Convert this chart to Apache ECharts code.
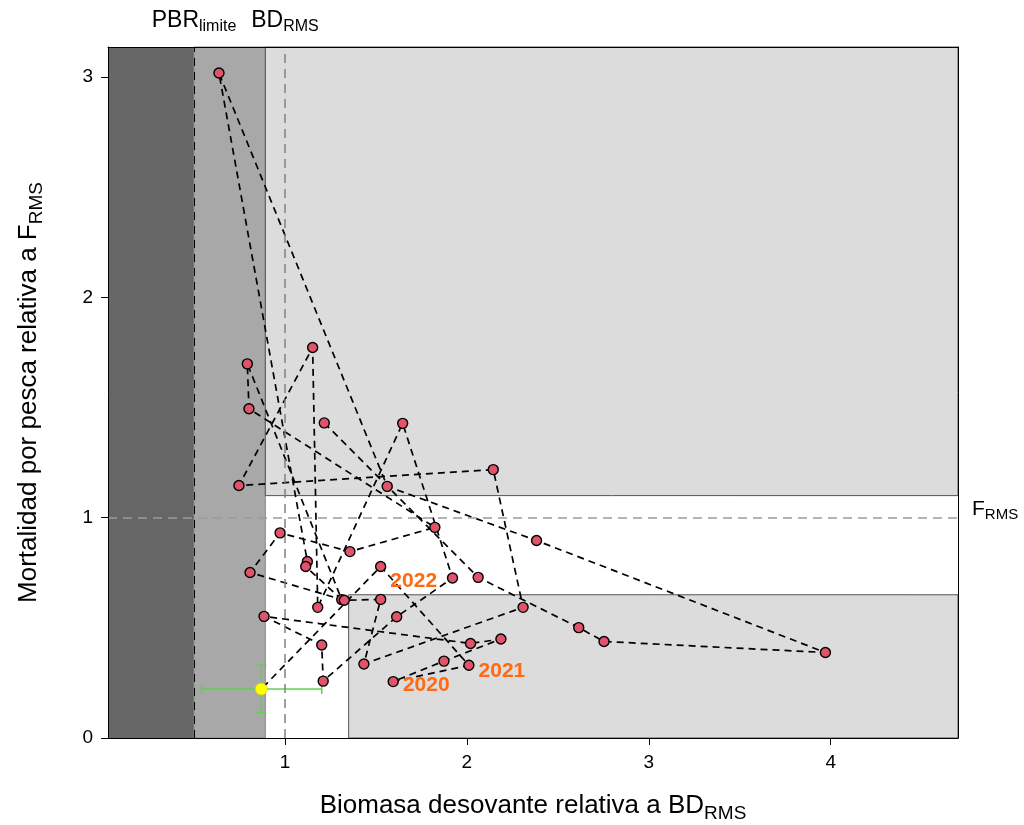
<!DOCTYPE html>
<html>
<head>
<meta charset="utf-8">
<script src="https://cdn.jsdelivr.net/npm/echarts@6/dist/echarts.min.js"></script>
<style>
html,body{margin:0;padding:0;background:#fff;}
#chart{width:1024px;height:825px;}
</style>
</head>
<body>
<div id="chart"></div>
<script>
// ---- data ----
const years = [1986,1987,1988,1989,1990,1991,1992,1993,1994,1995,1996,1997,1998,1999,2000,2001,2002,2003,2004,2005,2006,2007,2008,2009,2010,2011,2012,2013,2014,2015,2016,2017,2018,2019,2020,2021,2022];
const bRel = [1.216,2.062,2.615,2.754,3.971,2.383,1.562,0.637,1.123,1.114,1.312,0.793,0.802,1.824,1.357,0.973,0.808,1.326,1.526,1.434,2.309,2.145,0.747,1.152,1.180,1.647,1.921,1.614,1.210,1.202,0.885,2.020,2.187,1.874,1.595,2.011,1.526];
const fRel = [1.430,0.729,0.501,0.438,0.388,0.896,1.142,3.018,0.801,0.778,0.628,1.698,1.494,0.956,0.846,0.931,0.751,0.625,0.629,0.336,0.593,1.218,1.146,1.772,0.593,1.428,0.726,0.550,0.258,0.422,0.552,0.429,0.449,0.349,0.256,0.330,0.778];
const labeledYears = [2020,2021,2022];
// terminal estimate with intervals
const termB = 0.870, termF = 0.222;
const termBci = [0.542, 1.202];
const termFci = [0.116, 0.331];
// reference points / zone limits
const pbrLimite = 0.5;
const bdRms = 1.0;
const fRms = 1.0;
const zoneB1 = 0.892;
const zoneB2 = 1.35;
const zoneF1 = 0.65;
const zoneF2 = 1.10;
// axis ranges & tick labels
const xMin = 0.027, xMax = 4.70;
const yMin = 0, yMax = 3.136;
const xTicks = [1,2,3,4];
const yTicks = [0,1,2,3];

// ---- chart ----
const chart = echarts.init(document.getElementById('chart'), null, {renderer:'canvas'});
const FONT = 'Liberation Sans, Arial, sans-serif';

// rich-text helper: main text + lowered subscript (tops aligned, subscript pushed down by padding)
function subRich(size, subSize, drop) {
  const pT = Math.round(0.905 * (size - subSize) + drop);
  return {
    m:{fontSize:size, verticalAlign:'top', color:'#000', fontFamily:FONT},
    s:{fontSize:subSize, verticalAlign:'top', padding:[pT,0,0,0], color:'#000', fontFamily:FONT}
  };
}

const labelOffsets = {2020:[0,4], 2021:[0,6], 2022:[0,15]};
const scatterData = years.map((y,i)=>{
  const item = {value:[bRel[i], fRel[i], y]};
  if (labeledYears.includes(y)) {
    item.label = {show:true, formatter:String(y), position:'right', distance:4,
      offset: labelOffsets[y], color:'#FF6A13', fontWeight:'bold', fontSize:21, fontFamily:FONT};
  }
  return item;
});
const pathData = bRel.map((b,i)=>[b,fRel[i]]).concat([[termB,termF]]);

const option = {
  backgroundColor:'#fff',
  animation:false,
  grid:{left:108, right:66, top:47, bottom:87, containLabel:false, outerBoundsMode:'none'},
  xAxis:[{
    type:'value', min:xMin, max:xMax, position:'bottom', z:10,
    axisLine:{show:true, onZero:false, lineStyle:{color:'#000', width:1}},
    axisTick:{show:true, customValues:xTicks, length:7, lineStyle:{color:'#000'}},
    axisLabel:{customValues:xTicks, color:'#000', fontSize:19, fontFamily:FONT, margin:15},
    splitLine:{show:false},
    name:'{m|Biomasa desovante relativa a BD}{s|RMS}',
    nameLocation:'middle', nameGap:55,
    nameTextStyle:{rich:subRich(26, 19, 5)}
  },{
    type:'value', min:xMin, max:xMax, position:'top', z:10,
    axisLine:{show:true, onZero:false, lineStyle:{color:'#000', width:1}},
    axisTick:{show:false}, axisLabel:{show:false}, splitLine:{show:false}
  }],
  yAxis:[{
    type:'value', min:yMin, max:yMax, position:'left', z:10,
    axisLine:{show:true, onZero:false, lineStyle:{color:'#000', width:1}},
    axisTick:{show:true, customValues:yTicks, length:7, lineStyle:{color:'#000'}},
    axisLabel:{customValues:yTicks, color:'#000', fontSize:19, fontFamily:FONT, margin:15},
    splitLine:{show:false},
    name:'{m|Mortalidad por pesca relativa a F}{s|RMS}',
    nameLocation:'middle', nameGap:62, nameRotate:90,
    nameTextStyle:{rich:subRich(26, 19, 5)}
  },{
    type:'value', min:yMin, max:yMax, position:'right', z:10,
    axisLine:{show:true, onZero:false, lineStyle:{color:'#000', width:1}},
    axisTick:{show:false}, axisLabel:{show:false}, splitLine:{show:false}
  }],
  series:[
    { // zones
      type:'line', data:[], z:1, silent:true,
      markArea:{silent:true, data:[
        [{xAxis:xMin, yAxis:yMin, itemStyle:{color:'#666666', borderWidth:0}}, {xAxis:pbrLimite, yAxis:yMax}],
        [{xAxis:pbrLimite, yAxis:yMin, itemStyle:{color:'#A8A8A8', borderColor:'#8a8a8a', borderWidth:1}}, {xAxis:zoneB1, yAxis:yMax}],
        [{xAxis:zoneB1, yAxis:zoneF2, itemStyle:{color:'#DCDCDC', borderColor:'#555', borderWidth:1}}, {xAxis:xMax, yAxis:yMax}],
        [{xAxis:zoneB2, yAxis:yMin, itemStyle:{color:'#DCDCDC', borderColor:'#555', borderWidth:1}}, {xAxis:xMax, yAxis:zoneF1}]
      ]}
    },
    { // reference lines
      type:'line', data:[], z:2, silent:true,
      markLine:{silent:true, symbol:['none','none'], data:[
        {xAxis:pbrLimite, lineStyle:{color:'#000', width:1, type:[8,6]},
          label:{show:true, position:'end', distance:12, formatter:'{m|PBR}{s|limite}', rich:subRich(23, 16, 4)}},
        {xAxis:bdRms, lineStyle:{color:'#808080', width:1.5, type:[9,6]},
          label:{show:true, position:'end', distance:12, formatter:'{m|BD}{s|RMS}', rich:subRich(23, 16, 4)}},
        {yAxis:fRms, lineStyle:{color:'#9a9a9a', width:1.5, type:[9,6]},
          label:{show:true, position:'end', distance:14, offset:[0,-7], formatter:'{m|F}{s|RMS}', rich:subRich(21, 15, 4)}}
      ]}
    },
    { // trajectory
      type:'line', data:pathData, z:3, symbol:'none', silent:true,
      lineStyle:{color:'#000', width:1.7, type:[7,5]}
    },
    { // error bars of terminal estimate
      type:'custom', z:4, silent:true,
      data:[[termB, termF, termBci[0], termBci[1], termFci[0], termFci[1]]],
      renderItem:(params, api)=>{
        const c = api.coord([api.value(0), api.value(1)]);
        const l = api.coord([api.value(2), api.value(1)]);
        const r = api.coord([api.value(3), api.value(1)]);
        const lo = api.coord([api.value(0), api.value(4)]);
        const hi = api.coord([api.value(0), api.value(5)]);
        const st = {stroke:'#61D04F', lineWidth:1.5};
        const cap = 5;
        return {type:'group', children:[
          {type:'line', shape:{x1:l[0], y1:c[1], x2:r[0], y2:c[1]}, style:st},
          {type:'line', shape:{x1:l[0], y1:c[1]-cap, x2:l[0], y2:c[1]+cap}, style:st},
          {type:'line', shape:{x1:r[0], y1:c[1]-cap, x2:r[0], y2:c[1]+cap}, style:st},
          {type:'line', shape:{x1:c[0], y1:lo[1], x2:c[0], y2:hi[1]}, style:st},
          {type:'line', shape:{x1:c[0]-cap, y1:lo[1], x2:c[0]+cap, y2:lo[1]}, style:st},
          {type:'line', shape:{x1:c[0]-cap, y1:hi[1], x2:c[0]+cap, y2:hi[1]}, style:st}
        ]};
      }
    },
    { // yearly points
      type:'scatter', z:5, data:scatterData, symbol:'circle', symbolSize:10,
      itemStyle:{color:'#DF536B', borderColor:'#000', borderWidth:1.4, opacity:1}
    },
    { // terminal point
      type:'scatter', z:6, data:[[termB, termF]], symbol:'circle', symbolSize:12,
      itemStyle:{color:'#FFFF00', borderColor:'#d4d400', borderWidth:0.6, opacity:1}
    }
  ]
};
chart.setOption(option);
</script>
</body>
</html>
